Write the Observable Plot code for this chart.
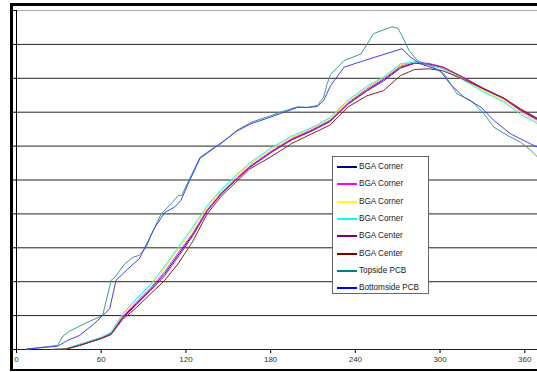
<!DOCTYPE html>
<html><head><meta charset="utf-8">
<script src="https://cdn.jsdelivr.net/npm/d3@7"></script>
<script src="https://cdn.jsdelivr.net/npm/@observablehq/plot@0.6"></script>
<style>
html,body{margin:0;padding:0;background:#fff;}
#wrap{position:relative;width:537px;height:372px;overflow:hidden;font-family:"Liberation Sans",Arial,sans-serif;background:#fff;}
#chart{position:absolute;left:0;top:0;}
#frame{position:absolute;left:10px;top:3px;width:600px;height:363px;border-left:3px solid #000;border-top:3px solid #000;border-bottom:2px solid #000;pointer-events:none;}
#legend{position:absolute;left:332px;top:156px;width:97px;height:138px;box-sizing:border-box;border:1px solid #666;background:#fff;}
.row{position:absolute;left:0;height:17px;width:95px;}
.row .sw{position:absolute;left:4px;top:8px;width:20px;height:2px;}
.row .tx{position:absolute;left:26px;top:0;line-height:17px;font-size:8.2px;color:#222;white-space:nowrap;}
</style>
</head><body>
<div id="wrap"><div id="chart"></div><div id="frame"></div><div id="legend"></div></div>
<script>
// Series names and colours (legend order)
const seriesNames = ["BGA Corner","BGA Corner","BGA Corner","BGA Corner","BGA Center","BGA Center","Topside PCB","Bottomside PCB"];
const seriesColors = ["#000080","#ff00ff","#ffff00","#00ffff","#800080","#800000","#008080","#0000ff"];
const lineColors = ["#202090","#ff20ff","#f0f000","#20f0f0","#902090","#902020","#3a9c9c","#4040ff"];

// BGA thermocouples share the same time base (s)
const bgaTime = [25,30,35,45,60,67,75,85,95,105,115,125,135,145,155,165,180,195,210,222,235,248,260,272,282,292,302,315,330,345,357,369];
const bgaCorner1 = [0,0.15,0.4,3.4,8.4,11.8,23.5,34,44.5,56,70.5,85,102.5,115,125,134.5,145.5,155,162,168.5,181.5,191,199,208,211.5,210.5,208,201,192.5,185,176.5,169.5];
const bgaCorner2 = [0,0.15,0.4,3.5,8.5,12,24,35,45.5,57.5,72,86,103,115.5,125.5,135,146,155.5,162.5,169,182,192,199.5,209,212,211,208.5,201.5,193,185,176,169];
const bgaCorner3 = [0,0.2,0.5,4,9,12.5,25.5,37,47.5,60,75,88.5,105,117,127,136.5,147.5,156.5,163.5,170.5,183,193,200.5,210,212,210,207.5,200.5,191.5,183.5,175,167.5];
const bgaCorner4 = [0,0.2,0.6,4,9,12.8,26,37.5,48,61.5,76,90.5,106,118,128,137.5,148.5,157.5,164,171,184,194,201,210.7,212,209.6,207,199.5,190.5,182.5,173.5,166.5];
const bgaCenter1 = [0,0.1,0.3,3.2,8.2,11.5,23,33,43.5,54.5,69,84,102,114.5,124.5,134,145,154.5,161.5,168,181,190.5,198,207.5,211,210.5,208,201.5,193,185.5,177,170];
const bgaCenter2 = [0,0.1,0.3,3,8,11,22,31,41,51,64,80,100,113,123,133,142,152,159.5,165.5,179,187,191,202,206.5,207,205.5,200,192.5,185.5,177.5,170.5];

// PCB surface thermocouples
const topTime = [7,29,33,37.5,49,61,67,69.5,76.5,82.5,87,92,95.5,102.5,109.5,114.5,117,121.5,130,140,144.5,156,166,177.5,187,199,206,213,217.5,220,222.5,232,244,253,266,270,273,278,284,293,303,312,322,331,338,347.5,357,364,369];
const topTemp = [0.3,3,10,13.5,19.5,25,51,53,63,68,69.5,75.5,85,100,107.5,113.5,113.5,123.5,141.8,149,151.5,161.5,167.5,171.5,175,179,178.5,180,186,196,203,213,218,233,238,237,231.5,220.5,213,209.5,203,188.5,183.5,174,164,158,153,147,142];
const botTime = [7,29,36,44.5,55,61,66,70.5,79,87,90.5,98,105,112,116.5,121.5,130,140,156,166,177.5,187,199,206,213,217.5,222.5,232,246,273,279,286,300,307,317,329,338,350,364,369];
const botTemp = [0.3,2.4,6.6,10.3,19,25,30,51,59.5,67,74.3,90,101,105,110,122,141,148.5,161,166.5,170.5,174,178.5,178.5,179.2,183.6,194.7,208.2,213,221.8,215.6,210.7,205.8,196,186,178.7,169,159,151.7,149.2];

const xTicks = [0,60,120,180,240,300,360];
const yGrid = [0,25,50,75,100,125,150,175,200,225];
const yTop = [250];

const seriesData = [
  [bgaTime, bgaCorner1],[bgaTime, bgaCorner2],[bgaTime, bgaCorner3],[bgaTime, bgaCorner4],
  [bgaTime, bgaCenter1],[bgaTime, bgaCenter2],[topTime, topTemp],[botTime, botTemp]
];

const lineMarks = seriesData.map(([ts, vs], i) =>
  Plot.line(ts.map((t, j) => ({t, v: vs[j]})), {x: "t", y: "v", stroke: lineColors[i], strokeWidth: 1})
);

const chart = Plot.plot({
  width: 537, height: 372,
  marginLeft: 16, marginRight: 0, marginTop: 10, marginBottom: 23,
  x: {domain: [0, 369], label: null},
  y: {domain: [0, 250], label: null},
  style: {fontFamily: "'Liberation Sans', Arial, sans-serif", fontSize: "8px", color: "#222", background: "transparent"},
  marks: [
    Plot.ruleY(yTop, {stroke: "#aaa"}),
    Plot.ruleY(yGrid, {stroke: "#222"}),
    Plot.axisY({ticks: [...yGrid, ...yTop], tickSize: 3, tickFormat: () => "", stroke: "#000"}),
    Plot.axisX({ticks: xTicks, tickSize: 4, tickPadding: 3, fill: "#333", stroke: "#000"}),
    ...lineMarks,
    Plot.ruleX([0], {stroke: "#000"})
  ]
});
document.getElementById("chart").appendChild(chart);

const legend = document.getElementById("legend");
seriesNames.forEach((name, i) => {
  const row = document.createElement("div");
  row.className = "row";
  row.style.top = Math.round(1 + i * 17.3) + "px";
  row.innerHTML = `<div class="sw" style="background:${seriesColors[i]}"></div><div class="tx">${name}</div>`;
  legend.appendChild(row);
});
</script>
</body></html>
